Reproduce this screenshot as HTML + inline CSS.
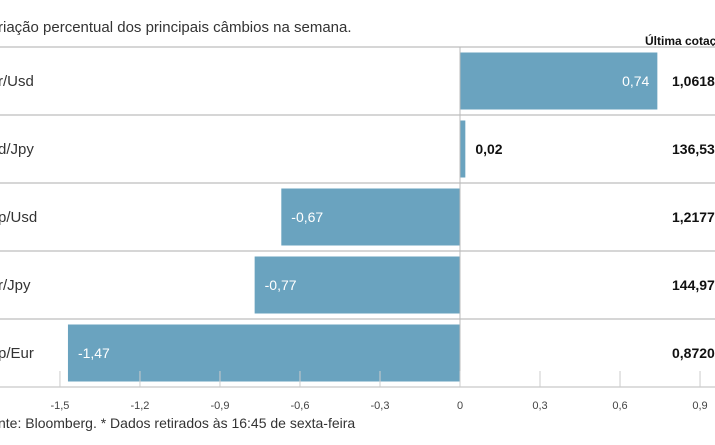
<!DOCTYPE html>
<html><head><meta charset="utf-8"><style>
body{margin:0;background:#fff;}
svg{display:block;font-family:"Liberation Sans",sans-serif;}
</style></head><body>
<svg id="chart" width="715" height="445" viewBox="0 0 715 445">
<text x="-2" y="32" font-size="15" fill="#333">riação percentual dos principais câmbios na semana.</text>
<text x="645" y="45" font-size="12" font-weight="bold" fill="#111">Última cotação</text>
<g id="rows"></g>
<g id="axis"></g>
<text x="-2" y="428" font-size="14" fill="#333">nte: Bloomberg.  * Dados retirados às 16:45 de sexta-feira</text>
</svg>
<script>
const categories = ["r/Usd","d/Jpy","p/Usd","r/Jpy","p/Eur"];
const values = [0.74, 0.02, -0.67, -0.77, -1.47];
const valueLabels = ["0,74","0,02","-0,67","-0,77","-1,47"];
const quotes = ["1,0618","136,53","1,2177","144,97","0,87203"];
const ticks = [-1.5,-1.2,-0.9,-0.6,-0.3,0,0.3,0.6,0.9];
const tickLabels = ["-1,5","-1,2","-0,9","-0,6","-0,3","0","0,3","0,6","0,9"];

const NS="http://www.w3.org/2000/svg";
const x0=460, pxPerUnit=266.7, topY=47, rowH=68, barH=57;
const xs=v=>x0+v*pxPerUnit;
const rows=document.getElementById('rows'), axis=document.getElementById('axis');
function mk(tag,attrs,parent,txt){const e=document.createElementNS(NS,tag);for(const k in attrs)e.setAttribute(k,attrs[k]);if(txt!=null)e.textContent=txt;parent.appendChild(e);return e;}
const bottomY=topY+rowH*categories.length;
for(let i=0;i<=categories.length;i++){
  const y=topY+i*rowH;
  const l=mk('line',{x1:0,x2:715,y1:y,y2:y,stroke:i==categories.length?'#bbb':'#d6d6d6','stroke-width':i==categories.length?1:2},rows);
  
  
}
categories.forEach((c,i)=>{
  const yc=topY+i*rowH+rowH/2;
  const t=mk('text',{x:-2,y:yc+5,'font-size':15,fill:'#333'},rows,c);
  
  
  const v=values[i];
  const bx=Math.min(xs(0),xs(v)), bw=Math.abs(xs(v)-xs(0));
  const r=mk('rect',{x:bx,y:yc-barH/2,width:bw,height:barH,fill:'#6aa3bf'},rows);
  
  
  let lx,anchor,col;
  if(bw>100){ if(v>0){lx=xs(v)-8;anchor='end';}else{lx=xs(v)+10;anchor='start';} col='#fff'; }
  else { if(v>0){lx=xs(v)+10;anchor='start';}else{lx=xs(v)-10;anchor='end';} col='#111'; }
  const vl=mk('text',{x:lx,y:yc+5,'font-size':14,'font-weight':col=='#fff'?'normal':'bold',fill:col,'text-anchor':anchor},rows,valueLabels[i]);
  
  
  const q=mk('text',{x:672,y:yc+5,'font-size':14,'font-weight':'bold',fill:'#111'},rows,quotes[i]);
  
  
});
const zl=mk('line',{x1:x0,x2:x0,y1:topY,y2:bottomY,stroke:'#bbb','stroke-width':1},axis);


ticks.forEach((t,i)=>{
  const x=xs(t);
  const tl=mk('line',{x1:x,x2:x,y1:bottomY-16,y2:bottomY,stroke:'#ccc','stroke-width':1},axis);
  
  
  const tt=mk('text',{x:x,y:bottomY+22,'font-size':11,fill:'#444','text-anchor':'middle'},axis,tickLabels[i]);
  
  
});
</script>
</body></html>
